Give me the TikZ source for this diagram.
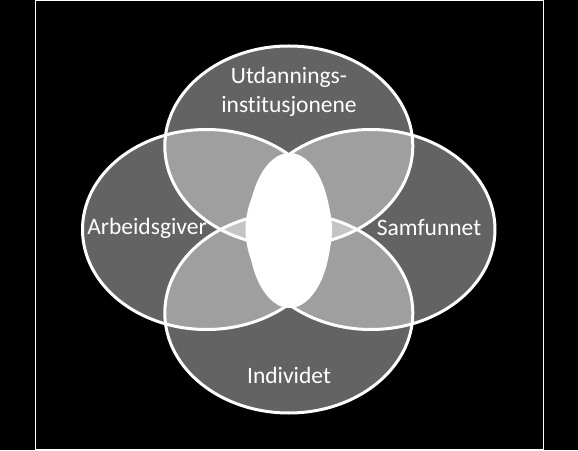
\documentclass[tikz,border=0pt]{standalone}
\usepackage{fontspec}
\setmainfont{Carlito}[Ligatures=NoCommon]
\begin{document}
\begin{tikzpicture}[x=1pt,y=1pt]

\tikzset{label text/.style={white, inner sep=0pt, font=\fontsize{23.5}{28.5}\selectfont, align=center}}

\useasboundingbox (0,0) rectangle (578,450);
\fill[black] (0,0) rectangle (578,450);
\draw[white, line width=1.3pt] (35.7,0.6) rectangle (543.3,449.4);

\coordinate (utd) at (288.8,304);
\coordinate (ind) at (288.8,137);
\coordinate (arb) at (206.5,220.5);
\coordinate (sam) at (371,220.5);

\foreach \c in {utd, ind, arb, sam} \fill[white, fill opacity=0.39] (\c) ellipse (124 and 100);
\foreach \c in {utd, ind, arb, sam} \draw[white, line width=3pt] (\c) ellipse (124 and 100);

\fill[white] (289.5,219.5) ellipse (41.5 and 77.5);

\node[label text] (utdtext) at (289,358) {Utdannings-\\institusjonene};
\node[label text] (arbtext) at (147,222) {Arbeidsgiver};
\node[label text] (samtext) at (429,222) {Samfunnet};
\node[label text] (indtext) at (289,75) {Individet};

\end{tikzpicture}
\end{document}
